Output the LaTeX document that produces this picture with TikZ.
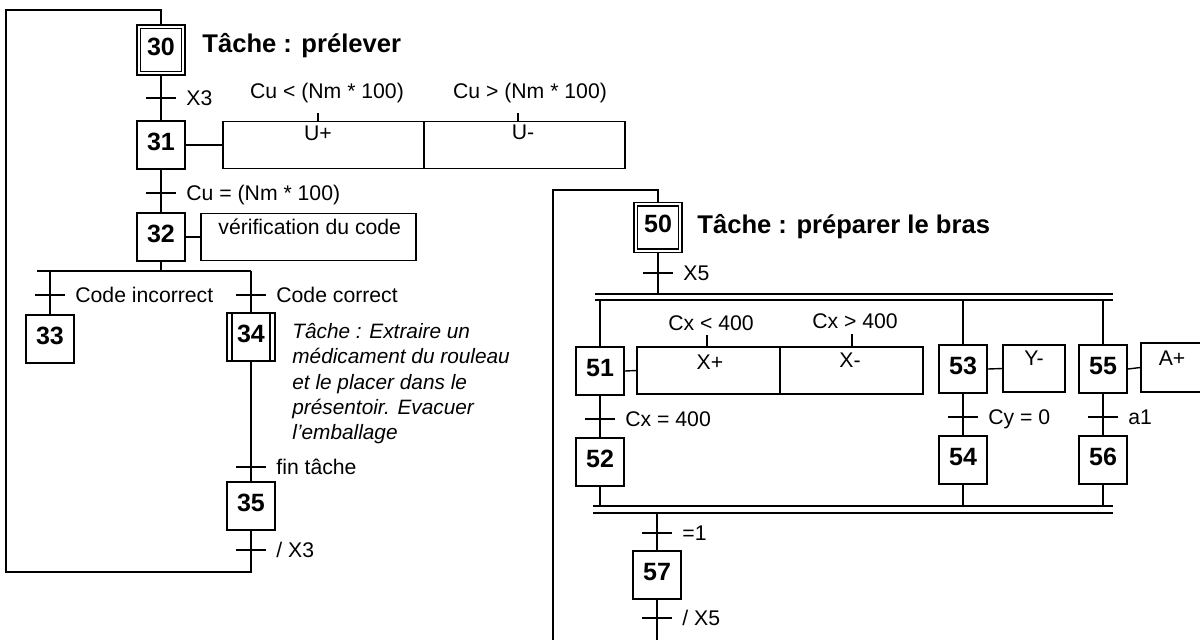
\documentclass[tikz,border=0pt]{standalone}
\usepackage{fontspec}
\setmainfont{Liberation Sans}
\newcommand\trn[4]{%
  \coordinate (#1) at (#2,#3);
  \draw[tick] ([xshift=-7.5pt]#1) -- ([xshift=7.5pt]#1);
  \node[tlab] (#1l) at ([xshift=12.5pt]#1) {#4};}
\begin{document}
\begin{tikzpicture}[x=0.5pt,y=-0.5pt,
  ln/.style={line width=0.7pt},
  stp/.style={draw,line width=0.9pt,minimum width=24pt,minimum height=24pt,inner sep=0pt,
    font=\fontsize{12.5}{14}\selectfont\bfseries,text height=9pt,text depth=4pt},
  act/.style={draw,line width=0.7pt,inner sep=0pt},
  tick/.style={line width=0.9pt},
  tlab/.style={anchor=west,inner sep=0pt,font=\fontsize{10.6}{12}\selectfont,text height=7.6pt,text depth=0pt},
  atxt/.style={inner sep=0pt,font=\fontsize{10.6}{12}\selectfont,text height=7.6pt,text depth=0pt},
  ttl/.style={anchor=west,inner sep=0pt,font=\fontsize{12.8}{15}\selectfont\bfseries,text height=9.2pt,text depth=0pt},
  dbl/.style={line width=1pt}
]
\useasboundingbox (0,0) rectangle (1200,639);

% ---------------- left grafcet ----------------
\node[stp,minimum height=25pt] (s30) at (161,50) {30};
\draw[ln] ([shift={(4.5,4.5)}]s30.north west) rectangle ([shift={(-4.5,-4.5)}]s30.south east);
\node[ttl] (t30) at (202,43) {Tâche : prélever};
\node[stp] (s31) at (161,145) {31};
\node[stp] (s32) at (161,237) {32};
\node[stp] (s33) at (50,339) {33};
\node[stp] (s34) at (251,337) {34};
\draw[ln] ([xshift=3pt]s34.north west) -- ([xshift=3pt]s34.south west);
\draw[ln] ([xshift=-3pt]s34.north east) -- ([xshift=-3pt]s34.south east);
\node[stp] (s35) at (251,506) {35};

\draw[ln] (s30.south) -- (s31.north);
\draw[ln] (s31.south) -- (s32.north);
\trn{t1}{161}{98}{X3}
\trn{t2}{161}{193}{Cu = (Nm * 100)}

% action 31
\node[act,minimum width=201pt,minimum height=23.5pt] (a31) at (424,145) {};
\draw[ln] (a31.north) -- (a31.south);
\draw[ln] (s31.east) -- (a31.west);
\node[atxt] (u1) at (318,133) {U+};
\node[atxt] (u2) at (523,132) {U-};
\coordinate (k1) at (318,113); \draw[ln] (k1) -- (k1 |- a31.north);
\coordinate (k2) at (518,113); \draw[ln] (k2) -- (k2 |- a31.north);
\node[atxt] (c1) at (327,91) {Cu < (Nm * 100)};
\node[atxt] (c2) at (530,91) {Cu > (Nm * 100)};

% action 32
\node[act,minimum width=107.5pt,minimum height=23.5pt] (a32) at (308.5,237) {};
\draw[ln] (s32.east) -- (a32.west);
\node[tlab] (v32) at (218,227) {vérification du code};

% OR divergence
\coordinate (o0) at (161,271); \coordinate (oL) at (37,271);
\coordinate (o33) at (50,271); \coordinate (o34) at (251,271);
\draw[ln] (s32.south) -- (o0);
\draw[ln] (oL) -- (o34);
\draw[ln] (o33) -- (s33.north);
\draw[ln] (o34) -- (s34.north);
\trn{t3}{50}{295}{Code incorrect}
\trn{t4}{251}{295}{Code correct}
\node[anchor=north west,inner sep=0pt,align=left,font=\fontsize{10.4}{12.65}\selectfont\itshape] (d34) at (292,323)
  {Tâche : Extraire un\\médicament du rouleau\\et le placer dans le\\présentoir. Evacuer\\l'emballage};
\draw[ln] (s34.south) -- (s35.north);
\trn{t5}{251}{467}{fin tâche}
\trn{t6}{251}{550}{/ X3}

% loop
\coordinate (l1) at (251,572); \coordinate (l2) at (6,572);
\coordinate (l3) at (6,10); \coordinate (l4) at (161,10);
\draw[ln] (s35.south) -- (l1) -- (l2) -- (l3) -- (l4) -- (s30.north);

% ---------------- right grafcet ----------------
\node[stp,minimum height=25pt] (s50) at (658,227.5) {50};
\draw[ln] ([shift={(4.5,4.5)}]s50.north west) rectangle ([shift={(-4.5,-4.5)}]s50.south east);
\node[ttl] (t50) at (697,224) {Tâche : préparer le bras};
\coordinate (r1) at (553,645); \coordinate (r2) at (553,190); \coordinate (r3) at (658,190);
\draw[ln] (r1) -- (r2) -- (r3) -- (s50.north);
\trn{t7}{658}{273}{X5}

\coordinate (dTL) at (595,294); \coordinate (dTR) at (1113,294);
\coordinate (dBL) at (595,300); \coordinate (dBR) at (1113,300);
\draw[dbl] (dTL) -- (dTR);
\draw[dbl] (dBL) -- (dBR);
\draw[ln] (s50.south) -- (s50.south |- dTL);

\node[stp] (s51) at (600,371) {51};
\node[stp] (s52) at (600,462) {52};
\node[stp] (s53) at (963,369) {53};
\node[stp] (s54) at (963,460) {54};
\node[stp] (s55) at (1103,369) {55};
\node[stp] (s56) at (1103,460) {56};
\node[stp] (s57) at (657,575) {57};

\draw[ln] (s51.north |- dBL) -- (s51.north);
\draw[ln] (s53.north |- dBL) -- (s53.north);
\draw[ln] (s55.north |- dBL) -- (s55.north);
\draw[ln] (s51.south) -- (s52.north);
\draw[ln] (s53.south) -- (s54.north);
\draw[ln] (s55.south) -- (s56.north);
\trn{t8}{600}{419}{Cx = 400}
\trn{t9}{963}{417}{Cy = 0}
\trn{t10}{1103}{417}{a1}

% actions right
\node[act,minimum width=143pt,minimum height=23.5pt] (a51) at (780,370.5) {};
\draw[ln] (a51.north) -- (a51.south);
\draw[ln] (s51.east) -- (a51.west);
\node[atxt] (x1) at (710,362) {X+};
\node[atxt] (x2) at (850,360) {X-};
\coordinate (k3) at (707,335); \draw[ln] (k3) -- (k3 |- a51.north);
\coordinate (k4) at (852,334); \draw[ln] (k4) -- (k4 |- a51.north);
\node[atxt] (cx1) at (711,323) {Cx < 400};
\node[atxt] (cx2) at (855,321) {Cx > 400};
\node[act,minimum width=31pt,minimum height=23.5pt] (a53) at (1034,368.5) {};
\draw[ln] (s53.east) -- (a53.west);
\node[atxt] (y1) at (1034,358) {Y-};
\node[act,minimum width=60.5pt,minimum height=24.5pt] (a55) at (1201.5,367.5) {};
\draw[ln] (s55.east) -- (a55.west);
\node[atxt] (ap) at (1172,358) {A+};

% convergence
\coordinate (cTL) at (593,506); \coordinate (cTR) at (1113,506);
\coordinate (cBL) at (593,513); \coordinate (cBR) at (1113,513);
\draw[dbl] (cTL) -- (cTR);
\draw[dbl] (cBL) -- (cBR);
\draw[ln] (s52.south) -- (s52.south |- cTL);
\draw[ln] (s54.south) -- (s54.south |- cTL);
\draw[ln] (s56.south) -- (s56.south |- cTL);
\draw[ln] (s57.north |- cBL) -- (s57.north);
\trn{t11}{657}{533}{=1}
\coordinate (e57) at (657,645);
\draw[ln] (s57.south) -- (e57);
\trn{t12}{657}{618}{/ X5}
\end{tikzpicture}
\end{document}
